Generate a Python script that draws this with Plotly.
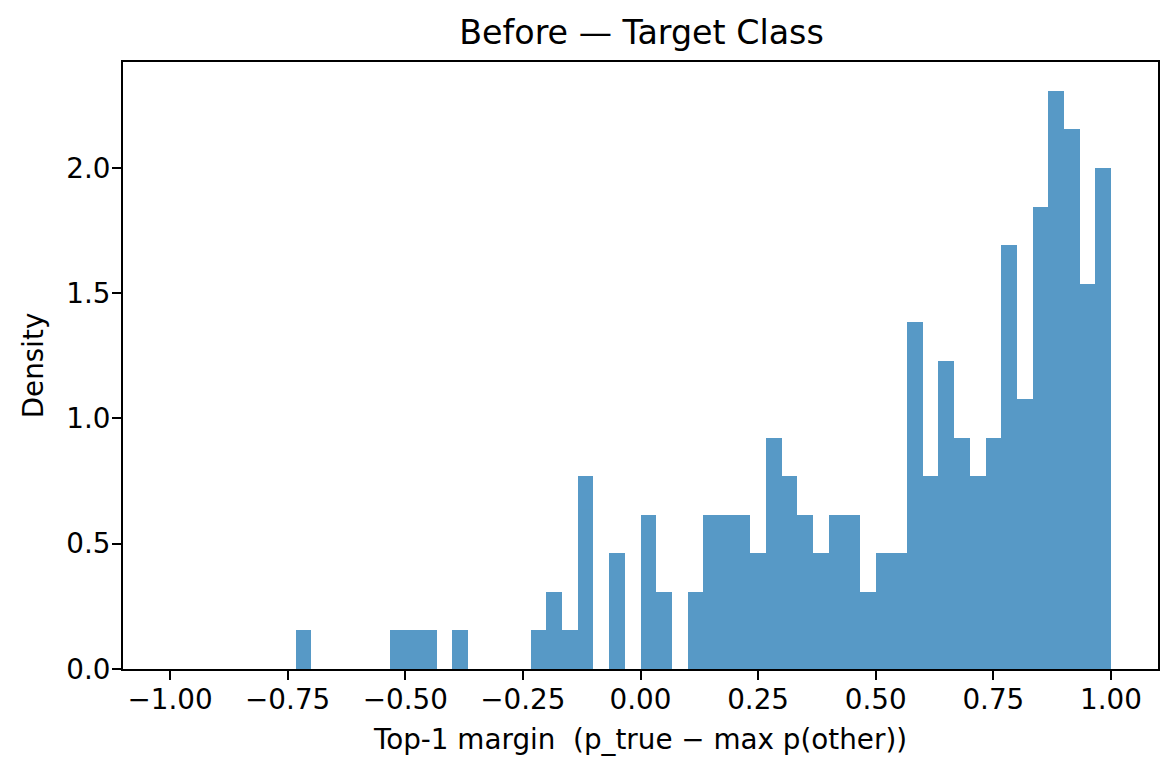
"""
Histogramme de densité — marge top-1 avant correction (classe cible).
"""
import numpy as np
import plotly.graph_objects as go

# bins of the histogram (60 equal bins on [-1, 1])
BIN_LO = -1.0
BIN_HI = 1.0
N_BINS = 60

# sample counts per bin (left to right)
COUNTS = [
    0, 0, 0, 0, 0, 0, 0, 0, 1, 0,
    0, 0, 0, 0, 1, 1, 1, 0, 1, 0,
    0, 0, 0, 1, 2, 1, 5, 0, 3, 0,
    4, 2, 0, 2, 4, 4, 4, 3, 6, 5,
    4, 3, 4, 4, 2, 3, 3, 9, 5, 8,
    6, 5, 6, 11, 7, 12, 15, 14, 10, 13,
]

X_TICKS = [-1.0, -0.75, -0.5, -0.25, 0.0, 0.25, 0.5, 0.75, 1.0]
Y_TICKS = [0.0, 0.5, 1.0, 1.5, 2.0]

TITLE = "Before — Target Class"
X_LABEL = "Top-1 margin  (p_true − max p(other))"
Y_LABEL = "Density"

# the page body adds an 8px margin, so the paper is a bit smaller than the window
W, H = 1160, 760
FONT = "DejaVu Sans, Arial, sans-serif"
FS = 27.8       # 10pt @ 200 dpi
FS_TITLE = 33.3  # 12pt @ 200 dpi

edges = np.linspace(BIN_LO, BIN_HI, N_BINS + 1)
bin_w = edges[1] - edges[0]
centers = (edges[:-1] + edges[1:]) / 2
counts = np.array(COUNTS, dtype=float)
density = counts / (counts.sum() * bin_w)   # same as density=True

fig = go.Figure(go.Bar(
    x=centers, y=density,
    width=bin_w,
    marker=dict(color="#1f77b4", line=dict(width=0)),
    opacity=0.75,
    hovertemplate="%{x:.3f}: %{y:.3f}<extra></extra>",
))

axis_common = dict(
    showline=True, linecolor="black", linewidth=2, mirror=True,
    ticks="outside", ticklen=9, tickwidth=2, tickcolor="black",
    ticklabelstandoff=-4,
    showgrid=False, zeroline=False,
    tickfont=dict(family=FONT, size=FS, color="black"),
)

fig.update_layout(
    width=W, height=H,
    paper_bgcolor="white", plot_bgcolor="white",
    font=dict(family=FONT, size=FS, color="black"),
    margin=dict(l=115, r=8, t=54, b=99),
    bargap=0,
    showlegend=False,
    title=dict(text=TITLE, x=633.5 / W, xanchor="center",
               y=1 - 24 / H, yanchor="middle",
               font=dict(family=FONT, size=FS_TITLE, color="black")),
    xaxis=dict(
        **axis_common,
        range=[-1.1, 1.1],
        tickvals=X_TICKS, tickformat=".2f",
        title=dict(text=X_LABEL, standoff=14,
                   font=dict(family=FONT, size=FS, color="black")),
    ),
    yaxis=dict(
        **axis_common,
        range=[0, density.max() * 1.05],
        tickvals=Y_TICKS, tickformat=".1f",
        title=dict(text=Y_LABEL, standoff=14,
                   font=dict(family=FONT, size=FS, color="black")),
    ),
)

fig.write_html("out.html", config={"displayModeBar": False})
